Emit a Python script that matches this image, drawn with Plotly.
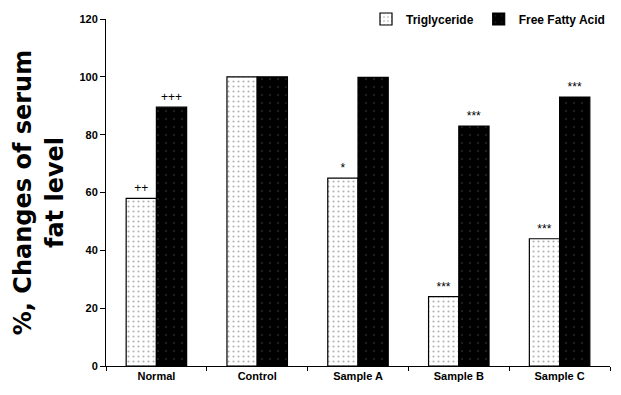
import plotly.graph_objects as go

categories = ["Normal", "Control", "Sample A", "Sample B", "Sample C"]
triglyceride = [58, 100, 65, 24, 44]
free_fatty_acid = [89.5, 100, 99.8, 83, 93]
tg_marks = ["++", "", "*", "***", "***"]
ffa_marks = ["+++", "", "", "***", "***"]
y_ticks = [0, 20, 40, 60, 80, 100, 120]

fig = go.Figure()
fig.add_trace(go.Bar(
    x=categories, y=triglyceride, name="Triglyceride",
    marker=dict(color="white", line=dict(color="black", width=1.2),
                pattern=dict(shape=".", fgcolor="#666666", bgcolor="white", size=5, solidity=0.15)),
    text=tg_marks, textposition="outside", cliponaxis=False,
    textfont=dict(family="Liberation Sans", size=12, color="black"),
))
fig.add_trace(go.Bar(
    x=categories, y=free_fatty_acid, name="Free Fatty Acid",
    marker=dict(color="black", line=dict(color="black", width=1.2),
                pattern=dict(shape=".", fgcolor="#555555", bgcolor="black", size=8, solidity=0.04)),
    text=ffa_marks, textposition="outside", cliponaxis=False,
    textfont=dict(family="Liberation Sans", size=12, color="black"),
))

fig.update_layout(
    width=621, height=395,
    margin=dict(l=98, r=19, t=11, b=37, autoexpand=False),
    paper_bgcolor="white", plot_bgcolor="white",
    barmode="group", bargap=0.4, bargroupgap=0,
    showlegend=True,
    legend=dict(orientation="h", x=1.0, xanchor="right", y=1.0, yanchor="middle",
                font=dict(family="Liberation Sans", size=12, color="black", weight="bold"),
                itemwidth=30, traceorder="normal", bgcolor="rgba(0,0,0,0)"),
    font=dict(family="Liberation Sans", color="black"),
    xaxis=dict(showline=True, linecolor="black", linewidth=1, ticks="outside",
               tickson="boundaries", ticklen=4, tickcolor="black",
               tickfont=dict(family="Liberation Sans", size=11, color="black", weight="bold"),
               showgrid=False, zeroline=False),
    yaxis=dict(range=[0, 120], tickvals=y_ticks, showline=True, linecolor="black", linewidth=1,
               ticks="outside", ticklen=5, tickcolor="black", showgrid=False, zeroline=False,
               tickfont=dict(family="Liberation Sans", size=11, color="black", weight="bold"),
               title=dict(text="%, Changes of serum<br>fat level", standoff=9,
                          font=dict(family="DejaVu Sans", size=24, color="black", weight="bold"))),
)

fig.write_html("out.html")
